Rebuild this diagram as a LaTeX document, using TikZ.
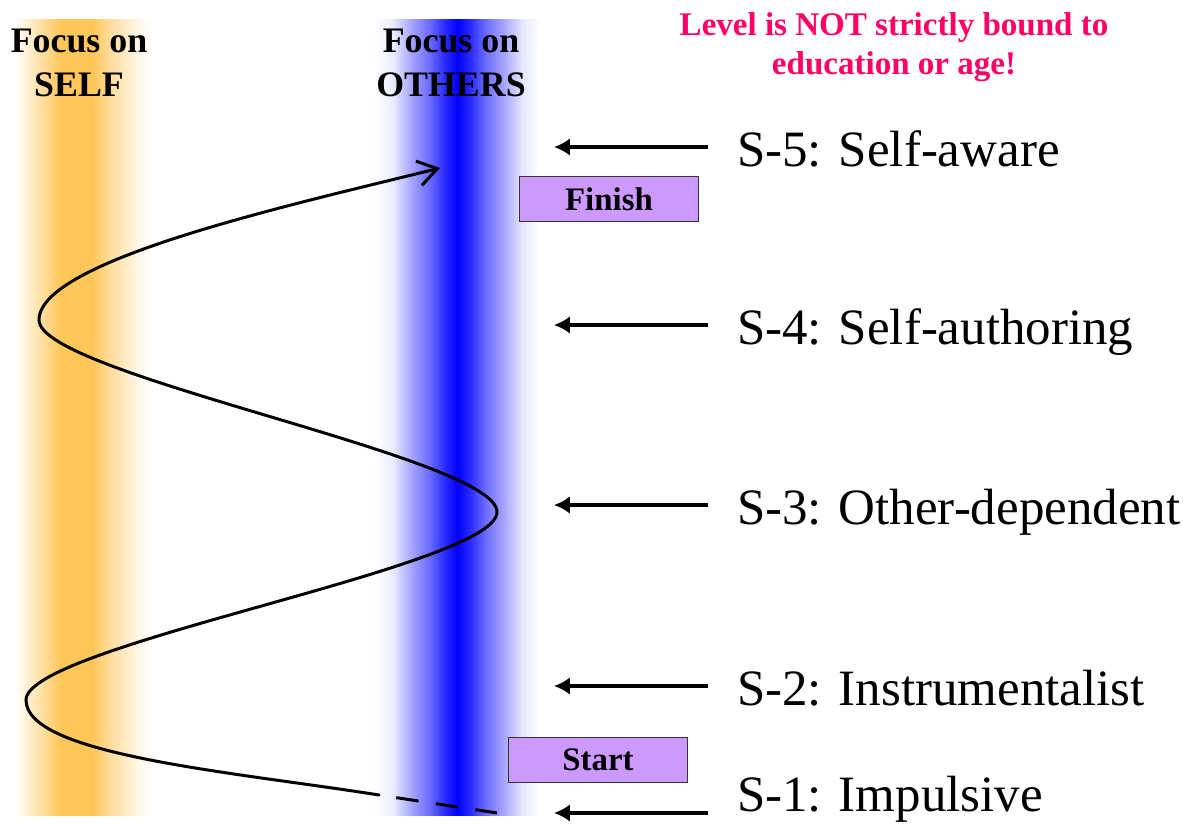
\documentclass[tikz,border=0pt]{standalone}
\usepackage{fontspec}
\setmainfont{Liberation Serif}
\usetikzlibrary{positioning, arrows.meta}

\definecolor{selfor}{RGB}{255,198,90}
\definecolor{boxlav}{RGB}{204,153,255}
\definecolor{notepink}{RGB}{255,0,102}

\pgfdeclarehorizontalshading{selfband}{100bp}{color(0bp)=(white); color(25bp)=(white); color(26.5bp)=(white); color(36.5bp)=(selfor!60); color(42.5bp)=(selfor); color(53.5bp)=(selfor); color(59.5bp)=(selfor!60); color(71bp)=(selfor!6); color(75bp)=(white); color(100bp)=(white)}
\pgfdeclarehorizontalshading{othersband}{100bp}{color(0bp)=(white); color(25bp)=(white); color(30.5bp)=(blue!8); color(36bp)=(blue!35); color(41.5bp)=(blue!58); color(46.5bp)=(blue!85); color(50bp)=(blue); color(53.5bp)=(blue!85); color(58.5bp)=(blue!58); color(64bp)=(blue!35); color(69.5bp)=(blue!10); color(75bp)=(white); color(100bp)=(white)}

\tikzset{
    header/.style={align=center, font=\bfseries\fontsize{20.4}{25}\selectfont},
    stage/.style={anchor=west, inner sep=0pt, outer xsep=0.58cm, text height=22.7pt, text depth=0pt, font=\fontsize{29}{34}\selectfont},
    stagearrow/.style={line width=2.8pt, -{Latex[length=9pt,width=10pt]}},
    markbox/.style={draw=black!80, line width=0.8pt, fill=boxlav, minimum width=3.58cm, minimum height=0.9cm, inner sep=0pt, font=\bfseries\fontsize{18.7}{20}\selectfont},
    spiral/.style={line width=1.7pt, line cap=round}
}

\begin{document}
\begin{tikzpicture}
            \useasboundingbox (0,0) rectangle (23.66,16.5);
            % the two focus bands
            \shade[shading=selfband] (0.2,0.2) rectangle (3.1,16.1);
            \shade[shading=othersband] (7.5,0.2) rectangle (10.8,16.1);
            \node[header] (selfhead) at (1.58,15.24) {Focus on\\SELF};
            \node[header] (othershead) at (9.02,15.24) {Focus on\\OTHERS};
            \node[align=center, text=notepink, font=\bfseries\fontsize{18.8}{22}\selectfont] (note) at (17.88,15.55) {Level is NOT strictly bound to\\education or age!};
            % stages with arrows
            \node[stage] (s5) at (14.16,13.56) {S-5: Self-aware};
            \node[stage] (s4) at (14.16,10.0) {S-4: Self-authoring};
            \node[stage] (s3) at (14.16,6.4) {S-3: Other-dependent};
            \node[stage] (s2) at (14.16,2.78) {S-2: Instrumentalist};
            \node[stage] (s1) at (14.16,0.66) {S-1: Impulsive};
            \coordinate (t5) at (11.08,13.56);
            \coordinate (t4) at (11.08,10.0);
            \coordinate (t3) at (11.08,6.4);
            \coordinate (t2) at (11.08,2.78);
            \coordinate (t1) at (11.08,0.24);
            \foreach \i in {1,...,5}
                \draw[stagearrow] (s\i.west |- t\i) -- (t\i);
            \node[markbox] (finish) at (12.18,12.52) {Finish};
            \node[markbox] (start) at (11.96,1.3) {Start};
            % development path
            \coordinate (c0) at (9.94,0.24);
            \coordinate (c1) at (7.58,0.60);
            \coordinate (l1) at (0.52,2.50);
            \coordinate (r1) at (9.94,6.26);
            \coordinate (l2) at (0.78,10.10);
            \coordinate (cend) at (8.80,13.14);
            \draw[spiral, line cap=butt, dash pattern=on 0.45cm off 0.35cm, dash phase=0.45cm] (c1) -- (c0);
            \draw[spiral, -{Straight Barb[length=3.8mm,width=5mm]}] (c1) .. controls +(171:3) and +(0,-1.1) .. (l1)
                .. controls +(0,1.1) and +(0,-1.1) .. (r1)
                .. controls +(0,1.1) and +(0,-1.1) .. (l2)
                .. controls +(0,1.2) and +(194:3) .. (cend);
        \end{tikzpicture}
\end{document}
